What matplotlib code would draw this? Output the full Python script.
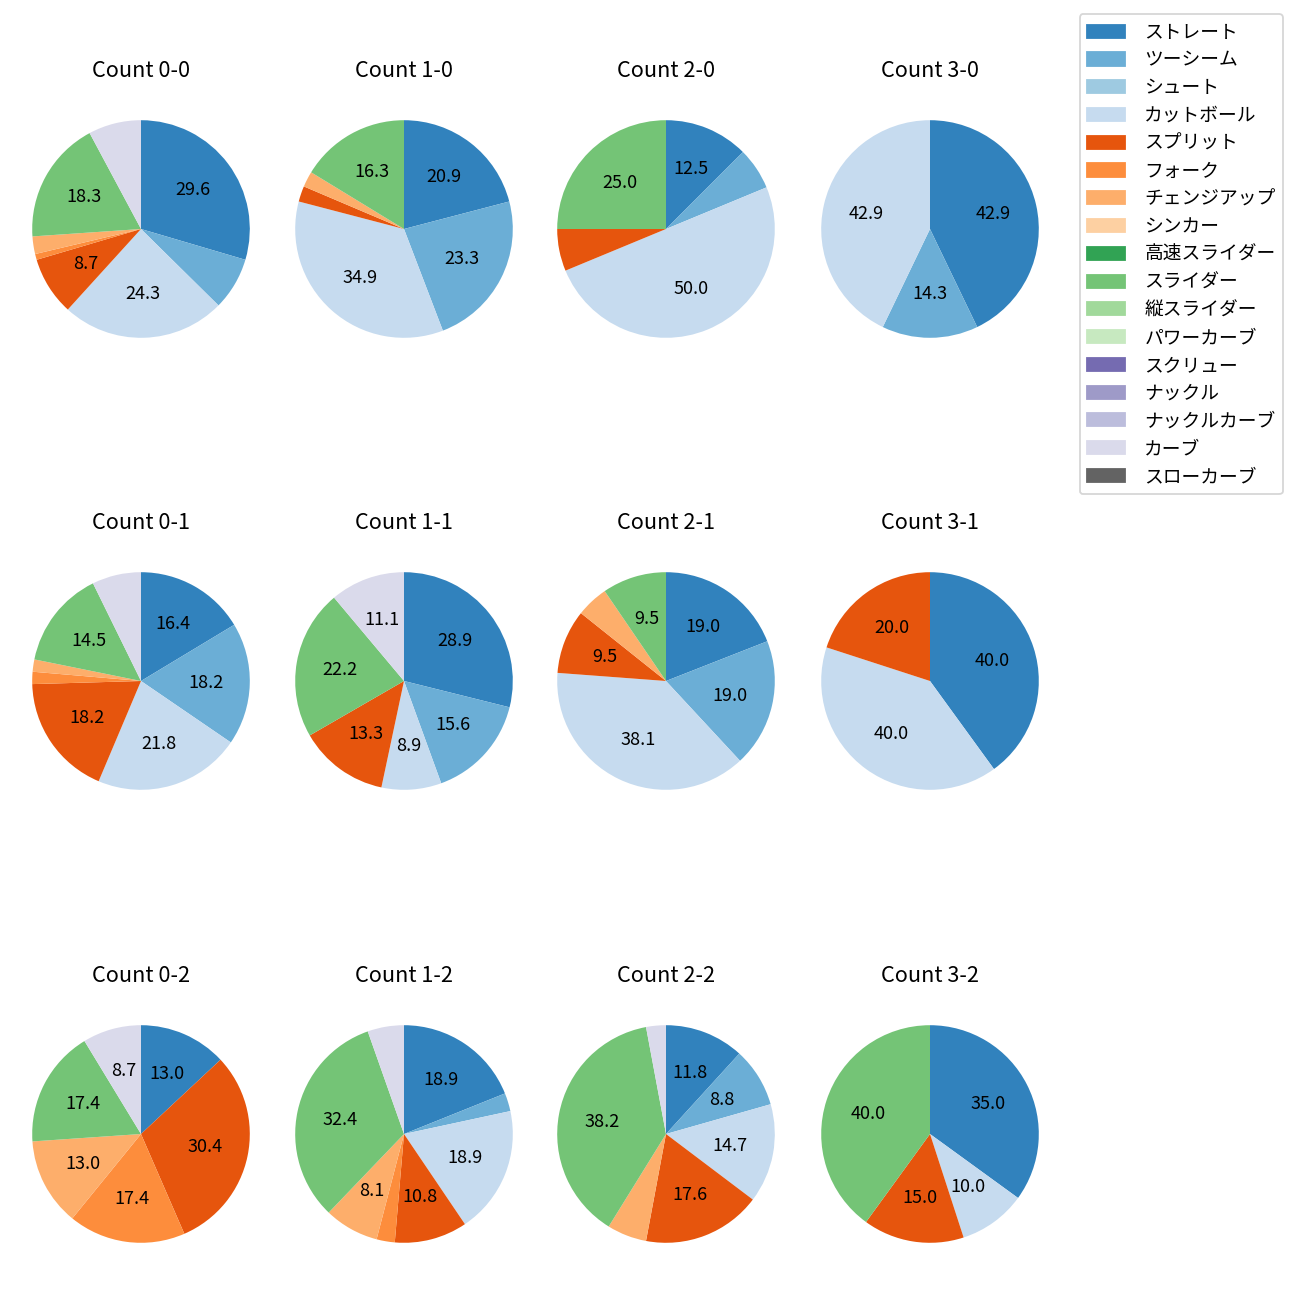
import matplotlib
matplotlib.use('Agg')
from matplotlib import pyplot as plt
from matplotlib.patches import Patch

plt.rcParams['font.family'] = ['Noto Sans CJK JP', 'DejaVu Sans']

# 球種と色 (tab20c)
pitch_names = ['ストレート', 'ツーシーム', 'シュート', 'カットボール', 'スプリット',
               'フォーク', 'チェンジアップ', 'シンカー', '高速スライダー', 'スライダー',
               '縦スライダー', 'パワーカーブ', 'スクリュー', 'ナックル', 'ナックルカーブ',
               'カーブ', 'スローカーブ']
pitch_colors = [plt.cm.tab20c(i) for i in range(len(pitch_names))]

# カウント別の球数 (pitch_names の順)
c00 = [34, 9, 0, 28, 10, 1, 3, 0, 0, 21, 0, 0, 0, 0, 0, 9, 0]
c10 = [9, 10, 0, 15, 1, 0, 1, 0, 0, 7, 0, 0, 0, 0, 0, 0, 0]
c20 = [2, 1, 0, 8, 1, 0, 0, 0, 0, 4, 0, 0, 0, 0, 0, 0, 0]
c30 = [3, 1, 0, 3, 0, 0, 0, 0, 0, 0, 0, 0, 0, 0, 0, 0, 0]
c01 = [9, 10, 0, 12, 10, 1, 1, 0, 0, 8, 0, 0, 0, 0, 0, 4, 0]
c11 = [13, 7, 0, 4, 6, 0, 0, 0, 0, 10, 0, 0, 0, 0, 0, 5, 0]
c21 = [4, 4, 0, 8, 2, 0, 1, 0, 0, 2, 0, 0, 0, 0, 0, 0, 0]
c31 = [2, 0, 0, 2, 1, 0, 0, 0, 0, 0, 0, 0, 0, 0, 0, 0, 0]
c02 = [3, 0, 0, 0, 7, 4, 3, 0, 0, 4, 0, 0, 0, 0, 0, 2, 0]
c12 = [7, 1, 0, 7, 4, 1, 3, 0, 0, 12, 0, 0, 0, 0, 0, 2, 0]
c22 = [4, 3, 0, 5, 6, 0, 2, 0, 0, 13, 0, 0, 0, 0, 0, 1, 0]
c32 = [7, 0, 0, 2, 3, 0, 0, 0, 0, 8, 0, 0, 0, 0, 0, 0, 0]

count_titles = [['Count 0-0', 'Count 1-0', 'Count 2-0', 'Count 3-0'],
                ['Count 0-1', 'Count 1-1', 'Count 2-1', 'Count 3-1'],
                ['Count 0-2', 'Count 1-2', 'Count 2-2', 'Count 3-2']]
count_data = [[c00, c10, c20, c30],
              [c01, c11, c21, c31],
              [c02, c12, c22, c32]]

fig = plt.figure(figsize=(10, 10), dpi=130)

# 各パイの中心 (px) とサイズ
col_x = [141, 404, 666, 930]
row_y = [229, 681, 1134]
side = 272

for r in range(3):
    for c in range(4):
        ax = fig.add_axes([(col_x[c] - side / 2) / 1300,
                           1 - (row_y[r] + side / 2) / 1300,
                           side / 1300, side / 1300])
        vals = count_data[r][c]
        v = [x for x in vals if x > 0]
        cols = [pitch_colors[i] for i, x in enumerate(vals) if x > 0]
        ax.pie(v, colors=cols, startangle=90, counterclock=False,
               autopct=lambda p: '%.1f' % p if p >= 8 else '')
        ax.set_title(count_titles[r][c], fontsize=12, pad=8.7)

handles = [Patch(color=col) for col in pitch_colors]
fig.legend(handles, pitch_names, loc='upper right',
           bbox_to_anchor=(0.987, 0.989), borderaxespad=0,
           fontsize=10.4, labelspacing=0.36, handletextpad=1.05)

plt.savefig('out.png', dpi=130)
